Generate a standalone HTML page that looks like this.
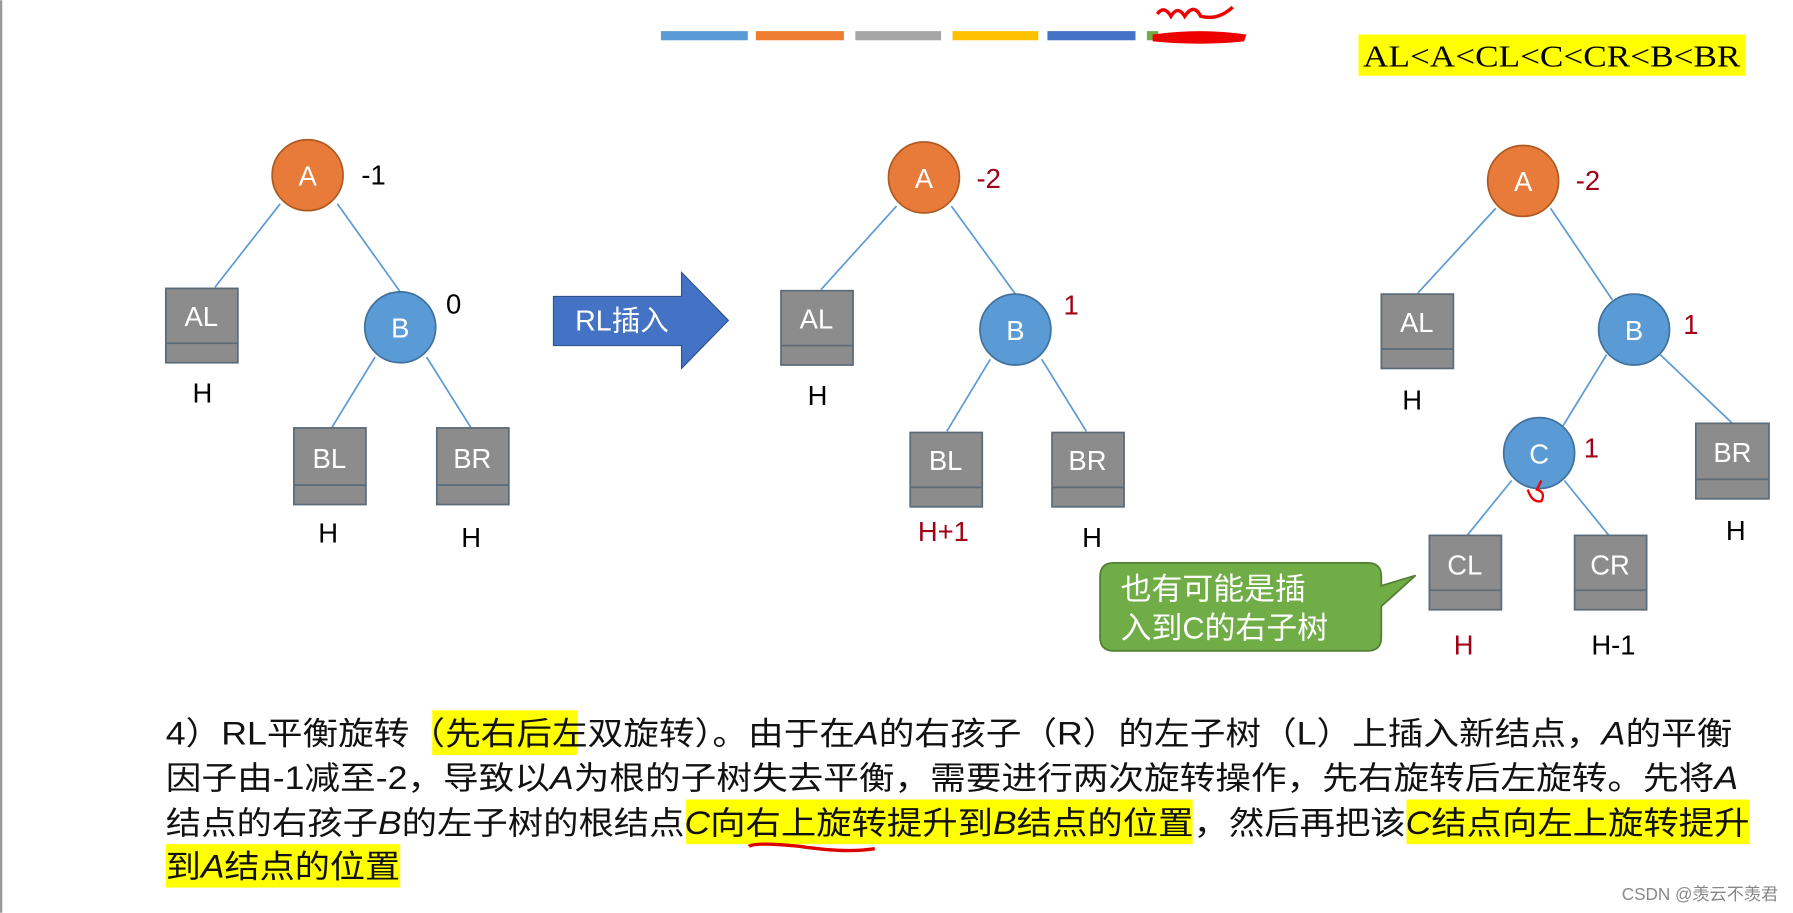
<!DOCTYPE html>
<html><head><meta charset="utf-8"><style>
html,body{margin:0;padding:0;background:#fff;width:1793px;height:913px;overflow:hidden}
svg{display:block}
.t{font-family:"Liberation Sans","Noto Sans CJK SC",sans-serif}
</style></head><body>
<svg width="1793" height="913" viewBox="0 0 1568 798" xmlns="http://www.w3.org/2000/svg" class="t">
<rect x="0" y="0" width="1568" height="798" fill="#fff"/>
<line x1="1" y1="0" x2="1" y2="798" stroke="#999" stroke-width="2"/>
<!-- color bars -->
<rect x="578" y="27" width="76" height="8" fill="#5b9bd5"/>
<rect x="661" y="27" width="77" height="8" fill="#ed7d31"/>
<rect x="748" y="27" width="75" height="8" fill="#a5a5a5"/>
<rect x="833" y="27" width="75" height="8" fill="#ffc000"/>
<rect x="916" y="27" width="77" height="8" fill="#4472c4"/>
<rect x="1003" y="27" width="10" height="8" fill="#70ad47"/>
<path d="M1008 30 Q1050 24 1090 30 L1088 36 Q1050 40 1008 36Z" fill="#e00"/>
<path d="M1012 12 Q1018 4 1024 14 Q1030 4 1036 14 Q1044 2 1050 14 Q1065 18 1078 6" fill="none" stroke="#e00" stroke-width="3"/>
<!-- top right -->
<rect x="1188" y="30" width="338" height="36" fill="#ffff00"/>
<text x="1357" y="58" font-family="Liberation Serif,serif" font-size="27" text-anchor="middle" textLength="330" lengthAdjust="spacingAndGlyphs">AL&lt;A&lt;CL&lt;C&lt;CR&lt;B&lt;BR</text>

<g stroke="#5b9bd5" stroke-width="1.5">
<line x1="245" y1="178" x2="188" y2="251"/><line x1="295" y1="178" x2="350" y2="255"/>
<line x1="328" y1="312" x2="290" y2="374"/><line x1="373" y1="312" x2="412" y2="374"/>
<line x1="784" y1="180" x2="718" y2="253"/><line x1="832" y1="180" x2="888" y2="257"/>
<line x1="866" y1="314" x2="828" y2="377"/><line x1="911" y1="314" x2="950" y2="377"/>
<line x1="1308" y1="182" x2="1240" y2="256"/><line x1="1356" y1="182" x2="1410" y2="262"/>
<line x1="1405" y1="310" x2="1367" y2="372"/><line x1="1452" y1="310" x2="1515" y2="370"/>
<line x1="1322" y1="420" x2="1283" y2="468"/><line x1="1368" y1="420" x2="1407" y2="468"/>
</g>

<!-- boxes -->
<g fill="#8c8c8c" stroke="#5a6b7a" stroke-width="1.5">
<rect x="145" y="252" width="63" height="65"/><rect x="257" y="374" width="63" height="67"/><rect x="382" y="374" width="63" height="67"/>
<rect x="683" y="254" width="63" height="65"/><rect x="796" y="378" width="63" height="65"/><rect x="920" y="378" width="63" height="65"/>
<rect x="1208" y="257" width="63" height="65"/><rect x="1483" y="370" width="64" height="66"/>
<rect x="1250" y="468" width="63" height="65"/><rect x="1377" y="468" width="63" height="65"/>
</g>
<g stroke="#5a6b7a" stroke-width="1.5">
<line x1="145" y1="300" x2="208" y2="300"/><line x1="257" y1="424" x2="320" y2="424"/><line x1="382" y1="424" x2="445" y2="424"/>
<line x1="683" y1="302" x2="746" y2="302"/><line x1="796" y1="426" x2="859" y2="426"/><line x1="920" y1="426" x2="983" y2="426"/>
<line x1="1208" y1="305" x2="1271" y2="305"/><line x1="1483" y1="419" x2="1547" y2="419"/>
<line x1="1250" y1="516" x2="1313" y2="516"/><line x1="1377" y1="516" x2="1440" y2="516"/>
</g>
<g fill="#fff" font-size="24" text-anchor="middle">
<text x="176" y="285">AL</text><text x="288" y="409">BL</text><text x="413" y="409">BR</text>
<text x="714" y="287">AL</text><text x="827" y="411">BL</text><text x="951" y="411">BR</text>
<text x="1239" y="290">AL</text><text x="1515" y="404">BR</text>
<text x="1281" y="502">CL</text><text x="1408" y="502">CR</text>
</g>

<!-- circles -->
<g stroke="#41719c" stroke-width="1.5">
<circle cx="269" cy="153" r="31" fill="#e87b3a" stroke="#ae5a21"/>
<circle cx="350" cy="286" r="31" fill="#5b9bd5"/>
<circle cx="808" cy="155" r="31" fill="#e87b3a" stroke="#ae5a21"/>
<circle cx="888" cy="288" r="31" fill="#5b9bd5"/>
<circle cx="1332" cy="158" r="31" fill="#e87b3a" stroke="#ae5a21"/>
<circle cx="1429" cy="288" r="31" fill="#5b9bd5"/>
<circle cx="1346" cy="396" r="31" fill="#5b9bd5"/>
</g>
<g fill="#fff" font-size="24" text-anchor="middle">
<text x="269" y="162">A</text><text x="350" y="295">B</text>
<text x="808" y="164">A</text><text x="888" y="297">B</text>
<text x="1332" y="167">A</text><text x="1429" y="297">B</text><text x="1346" y="405">C</text>
</g>
<path d="M1336 428 Q1340 440 1348 438 Q1352 430 1344 428 L1348 420" fill="none" stroke="#e00" stroke-width="2"/>

<!-- labels -->
<g font-size="24">
<text x="316" y="161">-1</text><text x="390" y="274">0</text>
<text x="177" y="352" text-anchor="middle">H</text><text x="287" y="474" text-anchor="middle">H</text><text x="412" y="478" text-anchor="middle">H</text>
<text x="715" y="354" text-anchor="middle">H</text><text x="955" y="478" text-anchor="middle">H</text>
<text x="1235" y="358" text-anchor="middle">H</text><text x="1518" y="472" text-anchor="middle">H</text>
<text x="1411" y="572" text-anchor="middle">H-1</text>
</g>
<g font-size="24" fill="#a00018">
<text x="854" y="164">-2</text><text x="930" y="275">1</text><text x="825" y="473" text-anchor="middle">H+1</text>
<text x="1378" y="166">-2</text><text x="1472" y="292">1</text><text x="1385" y="400">1</text>
<text x="1280" y="572" text-anchor="middle">H</text>
</g>

<!-- arrow -->
<path d="M484 259 L596 259 L596 238 L637 280 L596 322 L596 302 L484 302Z" fill="#4472c4" stroke="#2f528f" stroke-width="1"/>
<text x="503" y="289" fill="#fff" font-size="25">RL插入</text>

<!-- callout -->
<path d="M974 492 L1196 492 Q1208 492 1208 504 L1208 512 L1238 503 L1208 530 L1208 557 Q1208 569 1196 569 L974 569 Q962 569 962 557 L962 504 Q962 492 974 492Z" fill="#70ad47" stroke="#507e32" stroke-width="1.5"/>
<text x="980" y="524" fill="#fff" font-size="27">也有可能是插</text>
<text x="980" y="558" fill="#fff" font-size="27">入到C的右子树</text>

<!-- paragraph -->
<rect x="378" y="621" width="127" height="39" fill="#ffff00"/>
<rect x="600" y="699" width="443" height="39" fill="#ffff00"/>
<rect x="1230" y="699" width="300" height="39" fill="#ffff00"/>
<rect x="145" y="738" width="205" height="38" fill="#ffff00"/>
<g font-size="28" fill="#111">
<text x="145" y="651" textLength="1370" lengthAdjust="spacingAndGlyphs">4）RL平衡旋转（先右后左双旋转）。由于在<tspan font-style="italic">A</tspan>的右孩子（R）的左子树（L）上插入新结点，<tspan font-style="italic">A</tspan>的平衡</text>
<text x="145" y="690" textLength="1375" lengthAdjust="spacingAndGlyphs">因子由-1减至-2，导致以<tspan font-style="italic">A</tspan>为根的子树失去平衡，需要进行两次旋转操作，先右旋转后左旋转。先将<tspan font-style="italic">A</tspan></text>
<text x="145" y="729" textLength="1385" lengthAdjust="spacingAndGlyphs">结点的右孩子<tspan font-style="italic">B</tspan>的左子树的根结点<tspan font-style="italic">C</tspan>向右上旋转提升到<tspan font-style="italic">B</tspan>结点的位置，然后再把该<tspan font-style="italic">C</tspan>结点向左上旋转提升</text>
<text x="145" y="767" textLength="205" lengthAdjust="spacingAndGlyphs">到<tspan font-style="italic">A</tspan>结点的位置</text>
</g>
<path d="M655 740 Q660 736 700 740 Q740 746 765 742" fill="none" stroke="#d00" stroke-width="3"/>
<text x="1555" y="787" font-size="15" fill="#888" text-anchor="end">CSDN @羡云不羡君</text>
</svg>
</body></html>
